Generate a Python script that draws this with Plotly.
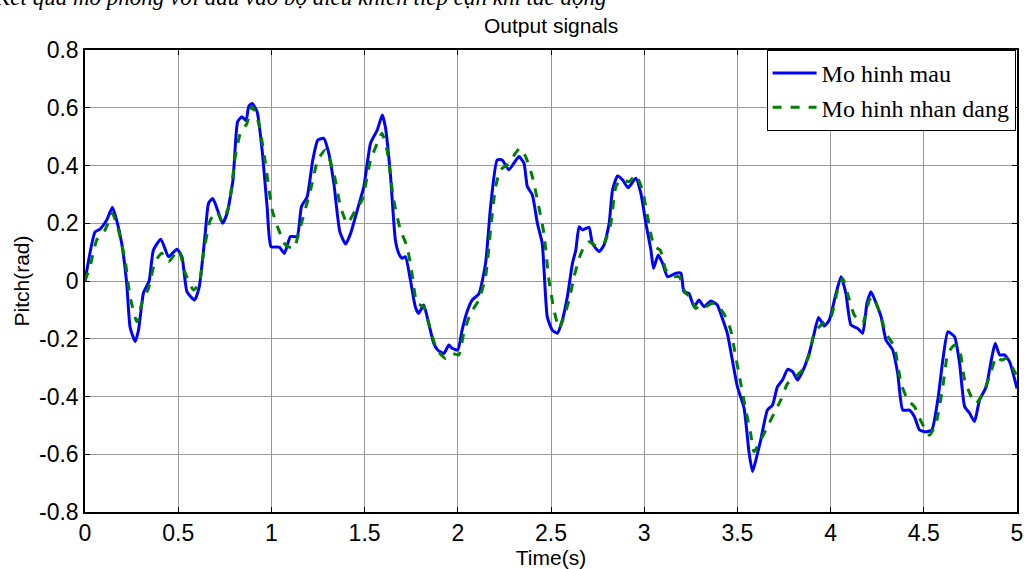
import plotly.graph_objects as go

# ---- data ----
t_model = [0.0, 0.054, 0.081, 0.116, 0.147, 0.17, 0.197, 0.224, 0.242, 0.269, 0.287, 0.314, 0.344,
           0.367, 0.407, 0.448, 0.493, 0.52, 0.547, 0.588, 0.613, 0.645, 0.663, 0.686, 0.711, 0.738,
           0.762, 0.794, 0.819, 0.842, 0.864, 0.878, 0.896, 0.923, 0.95, 0.977, 0.998, 1.043, 1.07,
           1.102, 1.138, 1.161, 1.192, 1.222, 1.249, 1.281, 1.308, 1.335, 1.367, 1.398, 1.425, 1.461,
           1.496, 1.532, 1.568, 1.595, 1.611, 1.638, 1.665, 1.683, 1.701, 1.719, 1.746, 1.772, 1.79,
           1.817, 1.844, 1.871, 1.892, 1.925, 1.952, 1.97, 2.0, 2.023, 2.05, 2.077, 2.113, 2.149,
           2.176, 2.211, 2.238, 2.274, 2.301, 2.328, 2.355, 2.373, 2.4, 2.427, 2.453, 2.48, 2.507,
           2.534, 2.561, 2.588, 2.615, 2.633, 2.651, 2.669, 2.704, 2.722, 2.758, 2.785, 2.812, 2.83,
           2.857, 2.884, 2.914, 2.955, 2.982, 3.009, 3.036, 3.05, 3.075, 3.099, 3.125, 3.17, 3.197,
           3.213, 3.24, 3.267, 3.294, 3.321, 3.357, 3.392, 3.419, 3.446, 3.473, 3.5, 3.536, 3.563,
           3.581, 3.599, 3.625, 3.661, 3.688, 3.715, 3.742, 3.769, 3.796, 3.823, 3.849, 3.885, 3.912,
           3.935, 3.966, 3.993, 4.029, 4.056, 4.082, 4.109, 4.145, 4.172, 4.195, 4.217, 4.244, 4.271,
           4.297, 4.333, 4.36, 4.387, 4.423, 4.45, 4.477, 4.513, 4.543, 4.575, 4.602, 4.629, 4.665,
           4.692, 4.719, 4.746, 4.772, 4.799, 4.835, 4.862, 4.883, 4.907, 4.933, 4.96, 5.0]
y_model = [0.0, 0.17, 0.18, 0.21, 0.255, 0.21, 0.13, -0.01, -0.16, -0.21, -0.17, -0.04, 0.0,
           0.107, 0.145, 0.084, 0.11, 0.084, -0.037, -0.066, -0.02, 0.165, 0.27, 0.286, 0.246, 0.2,
           0.234, 0.35, 0.552, 0.569, 0.555, 0.604, 0.615, 0.587, 0.454, 0.257, 0.119, 0.117, 0.096,
           0.154, 0.154, 0.257, 0.292, 0.419, 0.488, 0.494, 0.442, 0.338, 0.171, 0.128, 0.165, 0.246,
           0.327, 0.477, 0.523, 0.575, 0.535, 0.373, 0.142, 0.096, 0.079, 0.084, 0.003, -0.089, -0.112,
           -0.083, -0.147, -0.216, -0.239, -0.251, -0.222, -0.233, -0.239, -0.17, -0.106, -0.066,
           -0.045, 0.061, 0.258, 0.419, 0.419, 0.385, 0.408, 0.431, 0.408, 0.327, 0.298, 0.2, 0.13,
           -0.124, -0.17, -0.181, -0.135, -0.054, 0.061, 0.107, 0.188, 0.177, 0.186, 0.13, 0.102,
           0.125, 0.2, 0.315, 0.364, 0.35, 0.323, 0.356, 0.304, 0.2, 0.107, 0.044, 0.09, 0.061, 0.015,
           0.027, 0.027, -0.037, -0.043, -0.089, -0.066, -0.089, -0.069, -0.083, -0.129, -0.181,
           -0.274, -0.366, -0.441, -0.597, -0.66, -0.62, -0.551, -0.447, -0.43, -0.366, -0.343,
           -0.306, -0.314, -0.343, -0.314, -0.251, -0.181, -0.126, -0.156, -0.135, -0.043, 0.015,
           -0.043, -0.152, -0.164, -0.181, -0.077, -0.037, -0.077, -0.124, -0.204, -0.239, -0.32,
           -0.447, -0.447, -0.47, -0.516, -0.522, -0.516, -0.412, -0.274, -0.176, -0.193, -0.285,
           -0.435, -0.458, -0.487, -0.412, -0.366, -0.274, -0.216, -0.256, -0.256, -0.279, -0.372]

t_ident = [0.0, 0.027, 0.063, 0.108, 0.147, 0.179, 0.215, 0.242, 0.278, 0.305, 0.341, 0.376, 0.412,
           0.448, 0.502, 0.538, 0.582, 0.613, 0.636, 0.672, 0.708, 0.735, 0.771, 0.806, 0.833, 0.869,
           0.896, 0.932, 0.968, 1.004, 1.039, 1.075, 1.12, 1.156, 1.21, 1.249, 1.29, 1.335, 1.371,
           1.407, 1.452, 1.487, 1.532, 1.568, 1.593, 1.62, 1.656, 1.692, 1.728, 1.754, 1.781, 1.817,
           1.853, 1.889, 1.934, 1.97, 2.005, 2.032, 2.068, 2.113, 2.149, 2.176, 2.203, 2.229, 2.265,
           2.297, 2.333, 2.364, 2.4, 2.427, 2.462, 2.489, 2.516, 2.543, 2.57, 2.597, 2.624, 2.651,
           2.677, 2.704, 2.749, 2.785, 2.821, 2.848, 2.875, 2.919, 2.955, 2.991, 3.018, 3.054, 3.086,
           3.116, 3.152, 3.188, 3.222, 3.249, 3.276, 3.303, 3.33, 3.366, 3.401, 3.437, 3.464, 3.491,
           3.518, 3.545, 3.571, 3.589, 3.625, 3.661, 3.697, 3.733, 3.769, 3.814, 3.849, 3.885, 3.912,
           3.957, 4.002, 4.038, 4.065, 4.091, 4.127, 4.172, 4.208, 4.226, 4.262, 4.297, 4.342, 4.378,
           4.414, 4.45, 4.486, 4.53, 4.566, 4.602, 4.629, 4.665, 4.692, 4.719, 4.755, 4.781, 4.817,
           4.853, 4.889, 4.916, 4.943, 4.978, 5.0]
y_ident = [0.0, 0.05, 0.142, 0.177, 0.234, 0.177, 0.073, -0.054, -0.141, -0.077, -0.025, 0.067, 0.096,
           0.067, 0.107, 0.027, -0.031, -0.008, 0.096, 0.211, 0.24, 0.206, 0.257, 0.43, 0.511, 0.546,
           0.604, 0.546, 0.408, 0.246, 0.177, 0.125, 0.113, 0.188, 0.315, 0.419, 0.454, 0.373, 0.257,
           0.2, 0.246, 0.281, 0.419, 0.477, 0.512, 0.454, 0.281, 0.177, 0.119, 0.027, -0.077, -0.089,
           -0.17, -0.239, -0.268, -0.251, -0.256, -0.181, -0.112, -0.066, 0.015, 0.177, 0.327, 0.385,
           0.402, 0.431, 0.46, 0.431, 0.361, 0.281, 0.165, 0.003, -0.1, -0.164, -0.124, -0.066, 0.015,
           0.079, 0.119, 0.136, 0.119, 0.13, 0.2, 0.327, 0.35, 0.344, 0.367, 0.315, 0.223, 0.119,
           0.107, 0.038, 0.015, 0.015, -0.043, -0.054, -0.095, -0.083, -0.089, -0.077, -0.089, -0.124,
           -0.17, -0.262, -0.355, -0.447, -0.528, -0.591, -0.551, -0.505, -0.458, -0.412, -0.355,
           -0.331, -0.308, -0.256, -0.181, -0.147, -0.124, -0.031, 0.009, -0.043, -0.118, -0.147,
           -0.066, -0.054, -0.106, -0.181, -0.227, -0.355, -0.412, -0.435, -0.487, -0.534, -0.493,
           -0.366, -0.251, -0.222, -0.239, -0.343, -0.401, -0.424, -0.389, -0.331, -0.262, -0.274,
           -0.268, -0.302, -0.331]

series_names = ["Mo hinh mau", "Mo hinh nhan dang"]
x_tickvals = [0, 0.5, 1, 1.5, 2, 2.5, 3, 3.5, 4, 4.5, 5]
x_ticktext = ["0", "0.5", "1", "1.5", "2", "2.5", "3", "3.5", "4", "4.5", "5"]
y_tickvals = [-0.8, -0.6, -0.4, -0.2, 0, 0.2, 0.4, 0.6, 0.8]
y_ticktext = ["-0.8", "-0.6", "-0.4", "-0.2", "0", "0.2", "0.4", "0.6", "0.8"]
title_text = "Output signals"
x_title = "Time(s)"
y_title = "Pitch(rad)"
caption_text = "Kết quả mô phỏng với đầu vào bộ điều khiển tiếp cận khi tác động"

SANS = "Liberation Sans, Arial"
SERIF = "Liberation Serif, Times New Roman"

fig = go.Figure()
fig.add_trace(go.Scatter(x=t_model, y=y_model, mode="lines", name=series_names[0],
                         line=dict(color="#0000ff", width=3, shape="spline", smoothing=0.5)))
fig.add_trace(go.Scatter(x=t_ident, y=y_ident, mode="lines", name=series_names[1],
                         line=dict(color="#008000", width=3, dash="dash", shape="spline", smoothing=0.5)))

axis_common = dict(showline=True, linecolor="black", linewidth=1.5, mirror="ticks",
                   ticks="inside", ticklen=5, tickcolor="black", automargin=False,
                   showgrid=True, gridcolor="#9a9a9a", gridwidth=1, zeroline=False,
                   tickfont=dict(family=SANS, size=23, color="black"))

fig.update_xaxes(range=[0, 5], tickvals=x_tickvals, ticktext=x_ticktext,
                 title=dict(text=x_title, font=dict(family=SANS, size=21, color="black"),
                            standoff=0), **axis_common)
fig.update_yaxes(range=[-0.8, 0.8], tickvals=y_tickvals, ticktext=y_ticktext,
                 title=dict(text=y_title, font=dict(family=SANS, size=21, color="black"),
                            standoff=4), **axis_common)

fig.update_layout(
    width=1024, height=569,
    margin=dict(l=85, r=7, t=50, b=57, autoexpand=False),
    paper_bgcolor="white", plot_bgcolor="white",
    showlegend=True,
    legend=dict(x=0.9985, y=1.0, xanchor="right", yanchor="top",
                bgcolor="white", bordercolor="black", borderwidth=1,
                font=dict(family=SERIF, size=24, color="black"),
                tracegroupgap=0, itemwidth=44),
    annotations=[
        dict(text=title_text, xref="paper", yref="paper", x=0.5, y=1.0, yshift=11,
             xanchor="center", yanchor="bottom", showarrow=False,
             font=dict(family=SANS, size=21, color="black")),
        dict(text="<i>" + caption_text + "</i>", xref="paper", yref="paper", x=-0.1, y=1.0,
             yshift=38, xanchor="left", yanchor="bottom", showarrow=False,
             font=dict(family=SERIF, size=23, color="black")),
    ],
)

fig.write_html("out.html", config={"displayModeBar": False},
               post_script="document.body.style.margin='0';document.body.style.overflow='hidden';")
